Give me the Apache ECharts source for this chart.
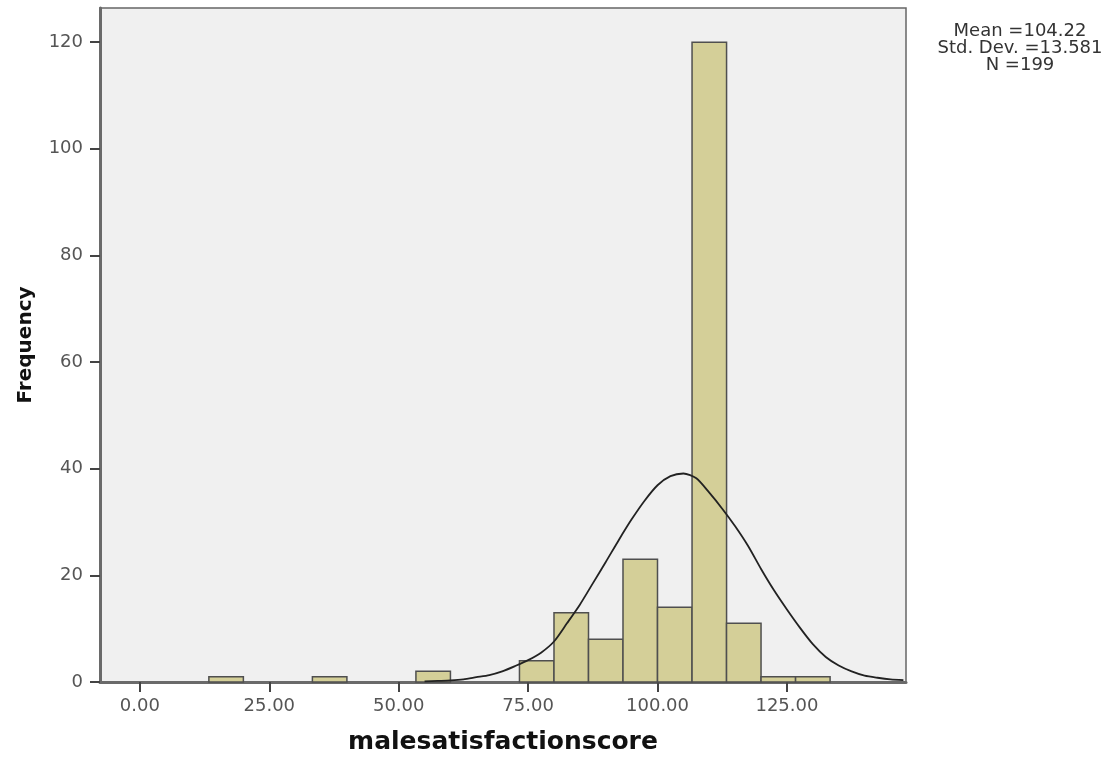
<!DOCTYPE html>
<html>
<head>
<meta charset="utf-8">
<script src="https://cdn.jsdelivr.net/npm/echarts@6/dist/echarts.min.js"></script>
<style>
html,body{margin:0;padding:0;background:#fff;}
#chart{width:1109px;height:758px;}
</style>
</head>
<body>
<div id="chart"></div>
<script>
// Histogram bins (lower edge of each bin) and frequencies
var binWidth = 20 / 3;
var binStarts = [13.33, 33.33, 53.33, 73.33, 80.00, 86.67, 93.33, 100.00, 106.67, 113.33, 120.00, 126.67];
var frequencies = [1, 1, 2, 4, 13, 8, 23, 14, 120, 11, 1, 1];

// Normal curve
var curveX = [55, 57.5, 60, 62.5, 65, 67.5, 70, 72.5, 75, 77.5, 80, 82.5, 85, 87.5, 90, 92.5, 95, 97.5, 100,
              102.5, 105, 107.5, 110, 112.5, 115, 117.5, 120, 122.5, 125, 127.5, 130, 132.5, 135, 137.5, 140, 142.5, 145, 147.5];
var curveY = [0.1, 0.2, 0.3, 0.5, 0.9, 1.3, 2.0, 3.0, 4.1, 5.5, 7.6, 11.0, 14.5, 18.5, 22.5, 26.6, 30.5, 34.0, 36.9,
              38.6, 39.1, 38.2, 35.5, 32.5, 29.2, 25.5, 21.2, 17.2, 13.6, 10.2, 7.1, 4.7, 3.1, 2.0, 1.2, 0.8, 0.5, 0.35];

var xTicks = [0, 25, 50, 75, 100, 125];
var yTicks = [0, 20, 40, 60, 80, 100, 120];
var statLines = ['Mean =104.22', 'Std. Dev. =13.581', 'N =199'];

var histData = binStarts.map(function (s, i) { return [s, frequencies[i]]; });
var curveData = curveX.map(function (x, i) { return [x, curveY[i]]; });

var chart = echarts.init(document.getElementById('chart'));
var fontFam = '"DejaVu Sans", Arial, sans-serif';

chart.setOption({
  animation: false,
  backgroundColor: '#ffffff',
  grid: {
    left: 100, right: 203, top: 8, bottom: 76,
    outerBoundsMode: 'none', containLabel: false,
    show: true, backgroundColor: '#f0f0f0', borderColor: '#666', borderWidth: 1.5
  },
  xAxis: {
    type: 'value', min: -7.7, max: 148,
    name: 'malesatisfactionscore', nameLocation: 'middle', nameGap: 48,
    nameTextStyle: { fontFamily: fontFam, fontWeight: 'bold', fontSize: 25, color: '#111' },
    splitLine: { show: false },
    axisLine: { show: true, onZero: false, lineStyle: { color: '#6a6a6a', width: 3 } },
    axisTick: { show: true, customValues: xTicks, length: 10, lineStyle: { color: '#444', width: 2 } },
    axisLabel: {
      customValues: xTicks, margin: 15, fontFamily: fontFam, fontSize: 18, color: '#555',
      formatter: function (v) { return v.toFixed(2); }
    }
  },
  yAxis: {
    type: 'value', min: 0, max: 126.4,
    name: 'Frequency', nameLocation: 'middle', nameGap: 64,
    nameTextStyle: { fontFamily: fontFam, fontWeight: 'bold', fontSize: 20, color: '#111' },
    splitLine: { show: false },
    axisLine: { show: true, onZero: false, lineStyle: { color: '#6a6a6a', width: 3 } },
    axisTick: { show: true, customValues: yTicks, length: 10, lineStyle: { color: '#444', width: 2 } },
    axisLabel: { customValues: yTicks, margin: 17, fontFamily: fontFam, fontSize: 18, color: '#555' }
  },
  graphic: [{
    type: 'text', x: 1020, y: 23,
    style: {
      text: statLines.join('\n'), fontFamily: fontFam, fontSize: 18, lineHeight: 17,
      fill: '#333', align: 'center', verticalAlign: 'top'
    }
  }],
  series: [{
    type: 'custom',
    data: histData,
    encode: { x: 0, y: 1 },
    renderItem: function (params, api) {
      var x0 = api.value(0), c = api.value(1);
      var p0 = api.coord([x0, 0]);
      var p1 = api.coord([x0 + binWidth, c]);
      return {
        type: 'rect',
        shape: { x: p0[0], y: p1[1], width: p1[0] - p0[0], height: p0[1] - p1[1] },
        style: { fill: '#d4cf98', stroke: '#4f4f4f', lineWidth: 1.5 }
      };
    },
    z: 2
  }, {
    type: 'line',
    data: curveData,
    smooth: 0.25,
    symbol: 'none',
    lineStyle: { color: '#222', width: 1.8 },
    z: 3
  }]
});
</script>
</body>
</html>
